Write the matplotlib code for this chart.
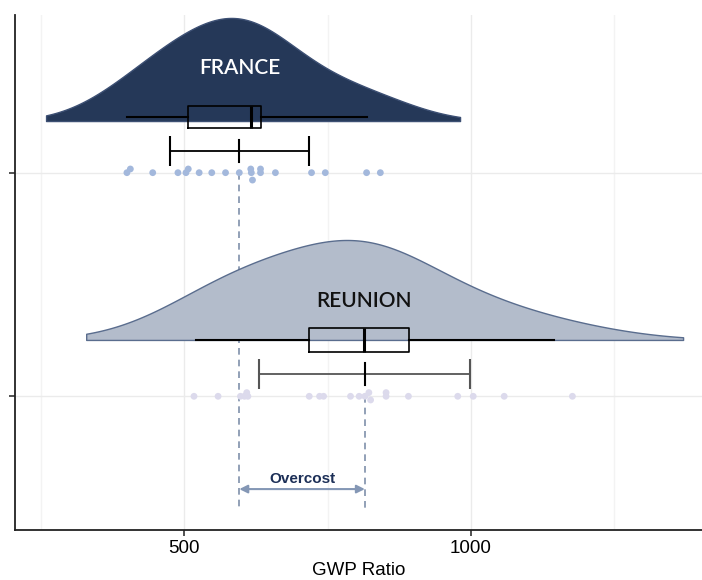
import numpy as np
import matplotlib.pyplot as plt

# values
groups = ['FRANCE', 'REUNION']
rows = [1, 0]

france_pts = [400, 406, 445, 489, 503, 507, 526, 548, 572, 596,
              616, 617, 619, 633, 633, 659, 722, 746, 818, 842]
france_stack = [0, 1, 0, 0, 0, 1, 0, 0, 0, 0,
                1, 0, -2, 1, 0, 0, 0, 0, 0, 0]
reunion_pts = [517, 559, 598, 605, 609, 611, 718, 736, 743, 790, 805,
               815, 822, 825, 852, 852, 891, 977, 1004, 1058, 1177]
reunion_stack = [0, 0, 0, 0, 1, 0, 0, 0, 0, 0, 0,
                 0, 1, -1, 1, 0, 0, 0, 0, 0, 0]

means = [596, 815]
sds = [121, 184]
box_q1 = [507, 718]
box_med = [616, 814]
box_q3 = [634, 892]
whisk_lo = [400, 520]
whisk_hi = [819, 1145]
dens_lo = [259, 329]
dens_hi = [981, 1370]
bandwidth = [85, 120]
label_x = [597, 813]

# styling
fill_cols = ['#253858', '#b3bccb']
edge_cols = ['#3d5074', '#5a6d8e']
pt_cols = ['#a3b8dc', '#dcdaec']
label_cols = ['white', '#111111']
dens_base = [0.231, 0.252]
dens_height = [0.461, 0.447]
box_off = [0.25, 0.252]
box_w = [0.098, 0.108]
err_off = [0.098, 0.101]
label_off = [0.468, 0.426]
step = 0.0165

plt.rcParams['font.family'] = ['Liberation Sans', 'DejaVu Sans']

fig = plt.figure(figsize=(7.02, 5.80), dpi=100)
ax = fig.add_axes([0.0207, 0.0862, 0.9793, 0.8871])

all_pts = [france_pts, reunion_pts]
all_stack = [france_stack, reunion_stack]

for i, g in enumerate(groups):
    y0 = rows[i]
    pts = np.array(all_pts[i], dtype=float)
    # smooth density of the points
    xs = np.linspace(dens_lo[i], dens_hi[i], 300)
    d = np.exp(-0.5 * ((xs[:, None] - pts[None, :]) / bandwidth[i]) ** 2).sum(axis=1)
    d = d / d.max() * dens_height[i]
    base = y0 + dens_base[i]
    ax.fill_between(xs, base, base + d, facecolor=fill_cols[i],
                    edgecolor=edge_cols[i], lw=1, zorder=2)

    # box plot
    stats = [dict(med=box_med[i], q1=box_q1[i], q3=box_q3[i],
                  whislo=whisk_lo[i], whishi=whisk_hi[i], fliers=[])]
    ax.bxp(stats, positions=[y0 + box_off[i]], widths=box_w[i],
           orientation='horizontal', showcaps=False, showfliers=False,
           boxprops=dict(color='black', lw=1.2),
           whiskerprops=dict(color='black', lw=1.5),
           medianprops=dict(color='black', lw=2.2),
           manage_ticks=False, zorder=3)

    # mean +/- sd
    ye = y0 + err_off[i]
    ecol = 'black' if i == 0 else '#555555'
    ax.errorbar([means[i]], [ye], xerr=[sds[i]], fmt='none', ecolor=ecol,
                elinewidth=1.3, capsize=11, capthick=1.5, zorder=3)
    ax.plot([means[i], means[i]], [ye - 0.05, ye + 0.05], color='black',
            lw=1.5, zorder=3)

    # points
    ax.scatter(pts, y0 + np.array(all_stack[i]) * step, s=24,
               color=pt_cols[i], edgecolor='none', zorder=4)

    # mean dashed line
    ax.plot([means[i], means[i]], [y0, -0.508], color='#7f90aa', lw=1.2,
            ls=(0, (4, 3)), zorder=1.5)

    ax.text(label_x[i], y0 + label_off[i], g, color=label_cols[i],
            fontsize=15, fontweight='semibold', family=['Lato', 'DejaVu Sans'],
            ha='center', va='center', zorder=5)

# overcost arrow
ax.annotate('', xy=(means[0], -0.415), xytext=(means[1], -0.415),
            arrowprops=dict(arrowstyle='<|-|>', color='#8497b5', lw=1.5,
                            shrinkA=0, shrinkB=0, mutation_scale=12), zorder=3)
ax.text((means[0] + means[1]) / 2, -0.37, 'Overcost', color='#1c2f57',
        fontsize=11, fontweight='bold', ha='center', va='center')

ax.set_xlim(204, 1403)
ax.set_ylim(-0.598, 1.703)
ax.set_xticks([500, 1000])
ax.set_xticks([250, 750, 1250], minor=True)
ax.set_yticks(rows)
ax.set_yticklabels([])
ax.grid(which='major', color='#ebebeb', lw=1)
ax.grid(which='minor', axis='x', color='#f3f3f3', lw=1)
ax.set_axisbelow(True)
ax.tick_params(which='major', length=4, width=1.2, color='#333333', labelsize=13.5)
ax.tick_params(which='minor', length=0)
for s in ['top', 'right']:
    ax.spines[s].set_visible(False)
for s in ['left', 'bottom']:
    ax.spines[s].set_linewidth(1.3)
    ax.spines[s].set_color('#222222')
ax.set_xlabel('GWP Ratio', fontsize=13.5, labelpad=3.5)

fig.savefig('out.png', dpi=100)
